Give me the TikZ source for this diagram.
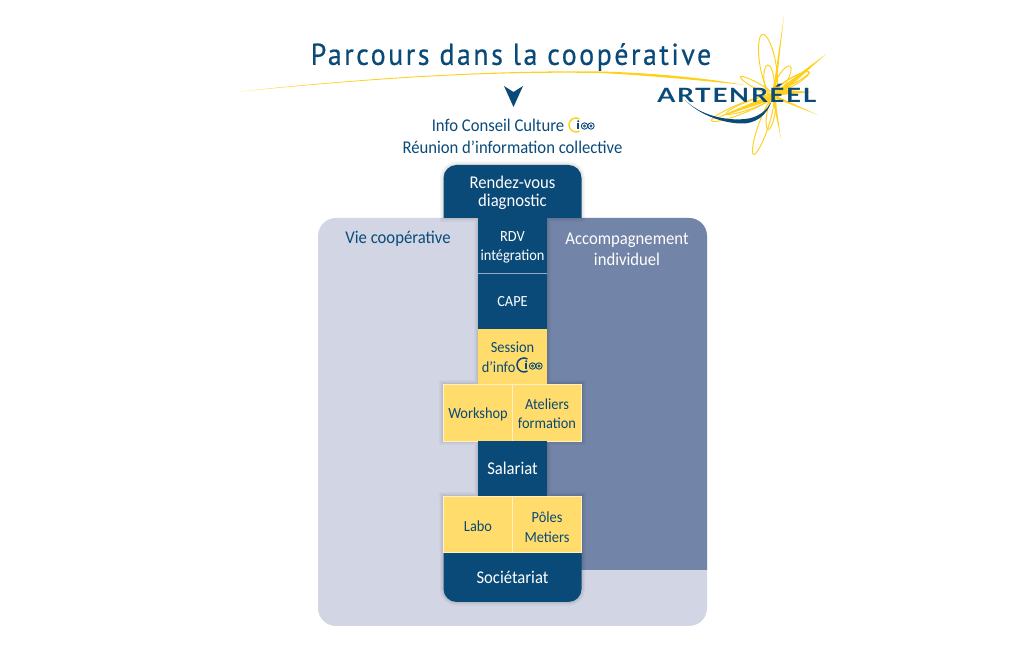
\documentclass[tikz,border=0pt]{standalone}
\usepackage{fontspec}
\setmainfont[FakeStretch=0.93]{Carlito}
\newfontfamily\titlefont[LetterSpace=8.5,FakeStretch=0.92,FakeBold=0.6]{PT Sans}
\newfontfamily\logofont[LetterSpace=9,FakeStretch=1.32]{Lato Bold}
\usepackage{xcolor}
\definecolor{navy}{HTML}{0A4A78}
\definecolor{sun}{HTML}{FFDC6B}
\definecolor{gold}{HTML}{FFD01E}
\definecolor{paleblue}{HTML}{D1D5E4}
\definecolor{slateblue}{HTML}{7284A8}
\tikzset{
  box/.style={minimum height=55*0.02cm,inner sep=0pt,align=center,font=\fontsize{8.8}{10}\selectfont},
  navybox/.style={box,fill=navy,text=white,minimum width=69*0.02cm},
  sunbox/.style={box,fill=sun,text=navy,minimum width=69*0.02cm},
  sunedge/.style={draw=white!60!sun,line width=0.35pt},
  label/.style={inner sep=0pt,align=center},
  ray/.style={fill=gold},
  loopline/.style={draw=gold,line width=0.55pt},
}
% pushes the first line of a box down
\newcommand{\lift}[1]{\rule{0pt}{#1pt}}
% small ico mark: ring, i, two little circles
\newcommand{\icomark}[3]{
  \draw[#3,line width=0.85pt] (#1,#2) ++(3.5,6) arc[start angle=60,end angle=300,radius=7];
  \fill[navy] (#1+1.2,#2-1.8) rectangle (#1+3.2,#2+4.5);
  \fill[navy] (#1+2.2,#2-3.8) circle (1.1);
  \draw[navy,line width=0.5pt] (#1+8.5,#2+1) circle (3.2) (#1+15,#2+1) circle (3.2);
  \draw[navy,line width=0.4pt] (#1+8.5,#2+1) circle (1.2) (#1+15,#2+1) circle (1.2);
}
\newcommand{\spineoutline}{(443.5,218) [rounded corners=0.26cm] -- (443.5,165) -- (581.5,165) [sharp corners] -- (581.5,218) -- (547,218) -- (547,384) -- (582,384) -- (582,441) -- (547,441) -- (547,496) -- (582,496) -- (582,552) [rounded corners=0.26cm] -- (581.5,602) -- (443.5,602) [sharp corners] -- (443,496) -- (478,496) -- (478,441) -- (443,441) -- (443,384) -- (478,384) -- (478,218) -- cycle}
\begin{document}
\begin{tikzpicture}[x=0.02cm,y=-0.02cm]
\useasboundingbox (0,0) rectangle (1024,671);

% panels
\fill[paleblue,rounded corners=0.36cm]  (318,218) rectangle (707,626);
\fill[slateblue]  (547,218) [rounded corners=0.36cm] -- (707,218) [sharp corners] -- (707,570) -- (547,570) -- cycle;

% soft edge of the column
\foreach \w in {1,2.5,4}
  \draw[black,opacity=0.04,line width=\w pt] \spineoutline;

% column
\fill[navy]  (443.5,218) [rounded corners=0.26cm] -- (443.5,165) -- (581.5,165) [sharp corners] -- (581.5,218) -- cycle;
\fill[navy]  (443.5,552) -- (581.5,552) [rounded corners=0.26cm] -- (581.5,602) -- (443.5,602) [sharp corners] -- cycle;
\node[navybox] (rdv) at (512.5,246) {\lift{7.4}RDV\\[1pt]intégration};
\node[navybox] (cape) at (512.5,302) {CAPE};
\draw[slateblue!70!white,line width=0.6pt] (rdv.south west) -- (rdv.south east);
\node[sunbox] (session) at (512.5,356.5) {\lift{9.8}Session\\[1pt]d'info\hspace{1.8em}\strut};
\node[sunbox,sunedge,minimum height=57*0.02cm] (workshop) at (478,412.5) {\lift{8.6}Workshop};
\node[sunbox,sunedge,minimum height=57*0.02cm] (ateliers) at (547,412.5) {\lift{7.6}Ateliers\\[1pt]formation};
\node[navybox,font=\fontsize{10.2}{11}\selectfont] (salariat) at (512.5,468.5) {Salariat};
\node[sunbox,sunedge,minimum height=56*0.02cm] (labo) at (478,524) {\lift{8.6}Labo};
\node[sunbox,sunedge,minimum height=56*0.02cm] (poles) at (547,524) {\lift{9.6}Pôles\\[1pt]Metiers};

% labels
\node[label,text=white,font=\fontsize{10.2}{10.2}\selectfont] (diagnostic) at (512.5,192.5) {Rendez-vous\\diagnostic};
\node[label,text=white,font=\fontsize{10.2}{11}\selectfont] (societariat) at (512.5,577) {Sociétariat};
\node[label,text=navy,font=\fontsize{10.2}{11}\selectfont] (vie) at (398,239) {Vie coopérative};
\node[label,text=white,font=\fontsize{10.2}{11.7}\selectfont] (accomp) at (627,249.5) {Accompagnement\\individuel};
\icomark{524}{365}{navy}

% title
\node[label,text=navy,font=\titlefont\fontsize{17.2}{18}\selectfont] (title) at (511,57) {Parcours dans la coopérative};
\fill[gold]  (240,91.5) .. controls (400,74) and (520,70.5) .. (600,71.5) .. controls (660,73) and (710,79) .. (745,85) .. controls (700,80.5) and (650,75.5) .. (600,73) .. controls (500,71.5) and (400,76) .. cycle;

\node[label,text=navy,font=\fontsize{10.2}{11}\selectfont] (info) at (498,125) {Info Conseil Culture};
\icomark{576}{125}{gold}
\node[label,text=navy,font=\fontsize{10.2}{11}\selectfont] (reunion) at (512.5,147) {Réunion d'information collective};

% arrowhead
\fill[navy] (504,86) -- (513.5,92) -- (523,86) -- (513.5,107) -- cycle;

% logo star
\fill[ray] (772,97) -- (784,15) -- (775,98) -- cycle;
\fill[ray] (771,95) -- (826,54) -- (775,100) -- cycle;
\fill[ray] (772,94) -- (818,115) -- (774,98) -- cycle;
\fill[ray] (772,97) -- (781,139) -- (775,97) -- cycle;
\fill[ray] (770,95) -- (711,120) -- (775,99) -- cycle;
\fill[ray] (772,89) -- (812,92) -- (772,96) -- cycle;
\foreach \cx/\cy/\rx/\ry/\ang in {768/65/31/8/80, 763/127/29/5/109, 757/86/19/3/29, 743/108/34/5/-22, 750/105/25/4/-20, 792/82/20/4/-30, 794/80/17/3/-28, 769/80/15/5/85, 782/80/16/5/-60, 771/113/17/4/100}
  \draw[loopline,rotate around={-\ang:(\cx,\cy)}] (\cx,\cy) ellipse (\rx*0.02cm and \ry*0.02cm);

% logo name
\fill[navy] (685,100) .. controls (700,115) and (725,121) .. (745,119) .. controls (758,118) and (768,110) .. (772,100) .. controls (767,116) and (755,124) .. (741,123.5) .. controls (720,123) and (697,113) .. cycle;
\node[label,text=navy,anchor=base west,font=\logofont\fontsize{11.2}{12}\selectfont] (logo) at (657,102.5) {ARTENRÉEL};
\end{tikzpicture}
\end{document}
